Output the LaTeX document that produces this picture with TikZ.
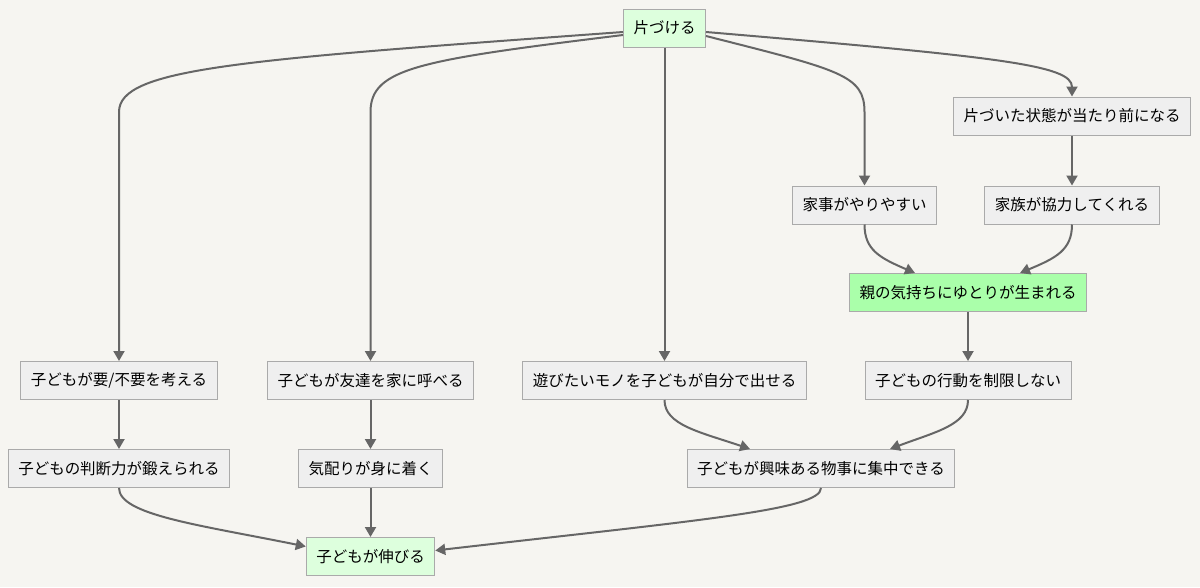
\documentclass[tikz,border=0pt]{standalone}
\usepackage{fontspec}
\setmainfont{Noto Sans CJK JP}
\usetikzlibrary{arrows.meta}
\definecolor{bgc}{HTML}{F6F5F1}
\definecolor{boxfill}{HTML}{EFEFEF}
\definecolor{boxline}{HTML}{AAAAAA}
\definecolor{lightgreen}{HTML}{DDFFDD}
\definecolor{bright}{HTML}{AAFFAA}
\definecolor{edge}{HTML}{666666}
\begin{document}
\begin{tikzpicture}[x=1pt,y=-1pt,
	box/.style={draw=boxline,fill=boxfill,line width=1pt,inner xsep=10pt,minimum height=38pt,font=\fontsize{15.5}{18}\selectfont},
	goal/.style={box,fill=lightgreen},
	key/.style={box,fill=bright},
	arr/.style={-{Triangle[length=10pt,width=11pt]},draw=edge,line width=2pt}]
		\fill[bgc] (0,0) rectangle (1200,587);
		\useasboundingbox (0,0) rectangle (1200,587);
		\node[goal](top) at (664.5,28){片づける};
		\node[box](atarimae) at (1072,116){片づいた状態が当たり前になる};
		\node[box](kaji) at (864.5,205){家事がやりやすい};
		\node[box](kyoryoku) at (1072,205){家族が協力してくれる};
		\node[key](yutori) at (968,292.5){親の気持ちにゆとりが生まれる};
		\node[box](yofuyo) at (119,380.5){子どもが要/不要を考える};
		\node[box](tomodachi) at (370.5,380.5){子どもが友達を家に呼べる};
		\node[box](asobi) at (664.5,380.5){遊びたいモノを子どもが自分で出せる};
		\node[box](seigen) at (968,380.5){子どもの行動を制限しない};
		\node[box](handan) at (119,468.5){子どもの判断力が鍛えられる};
		\node[box](kikubari) at (370.5,468.5){気配りが身に着く};
		\node[box](shuchu) at (821,468.5){子どもが興味ある物事に集中できる};
		\node[goal](nobiru) at (370.5,556.5){子どもが伸びる};
		\draw[arr] ([yshift=-4pt]top.west) ..controls (240,60) and (119,68) .. (119,112) -- (yofuyo.north);
		\draw[arr] ([yshift=-7pt]top.west) ..controls (420,60) and (370.5,68) .. (370.5,112) -- (tomodachi.north);
		\draw[arr] (top) -- (asobi);
		\draw[arr] ([yshift=-8pt]top.east) ..controls (840,70) and (864.5,75) .. (864.5,112) -- (kaji.north);
		\draw[arr] ([yshift=-4pt]top.east) ..controls (1000,57) and (1072,65) .. (atarimae.north);
		\draw[arr] (atarimae) -- (kyoryoku);
		\draw[arr] (kaji.south) ..controls (864.5,250) and (880,258) .. ([xshift=-53pt]yutori.north);
		\draw[arr] (kyoryoku.south) ..controls (1072,250) and (1056,258) .. ([xshift=52pt]yutori.north);
		\draw[arr] (yutori) -- (seigen);
		\draw[arr] (yofuyo) -- (handan);
		\draw[arr] (tomodachi) -- (kikubari);
		\draw[arr] (asobi.south) ..controls (664.5,425) and (700,432) .. ([xshift=-71pt]shuchu.north);
		\draw[arr] (seigen.south) ..controls (968,425) and (935,432) .. ([xshift=69pt]shuchu.north);
		\draw[arr] (kikubari) -- (nobiru);
		\draw[arr] (handan.south) ..controls (119,515) and (200,525) .. ([yshift=10pt]nobiru.west);
		\draw[arr] (shuchu.south) ..controls (821,510) and (700,520) .. ([yshift=6pt]nobiru.east);
	\end{tikzpicture}
\end{document}
